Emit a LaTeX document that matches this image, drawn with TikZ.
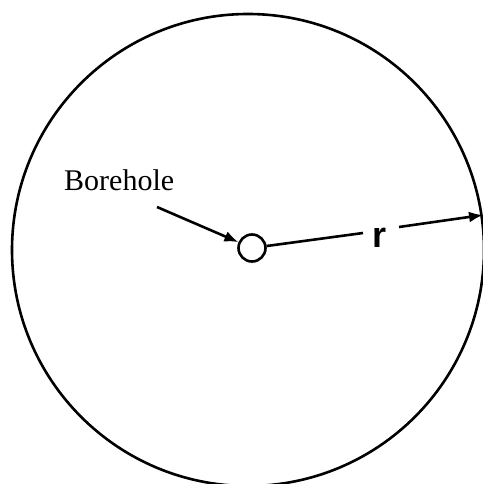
\documentclass[tikz,border=0pt]{standalone}
\usepackage{fontspec}
\setmainfont{Liberation Serif}
\newfontfamily\rfont{Liberation Sans}
\usetikzlibrary{arrows.meta}
\begin{document}
\begin{tikzpicture}[x=1pt,y=-1pt,
  line/.style={line width=2.6pt,draw=black},
  arr/.style={line, -{Latex[length=14pt,width=11pt]}},
  lbl/.style={inner sep=0pt,anchor=base west}]
\useasboundingbox (0,0) rectangle (482,484);
\fill[white] (0,0) rectangle (482,484);
\node[line, circle, minimum size=472pt, inner sep=0pt] (domain) at (248,250) {};
\node[line, circle, minimum size=27pt, inner sep=0pt, fill=white] (hole) at (252,248) {};
\node[lbl, font=\fontsize{30}{36}\selectfont] (bh) at (64,190) {Borehole};
\node[lbl, font=\rfont\bfseries\fontsize{36}{44}\selectfont] (r) at (372,247) {r};
\coordinate (bstart) at (157,207);
\coordinate (gapL) at (363,233);
\coordinate (gapR) at (399,227);
\coordinate (tip) at (483,215);
\draw[arr] (bstart) -- (hole);
\draw[line] (hole) -- (gapL);
\draw[arr] (gapR) -- (tip);
\end{tikzpicture}
\end{document}
